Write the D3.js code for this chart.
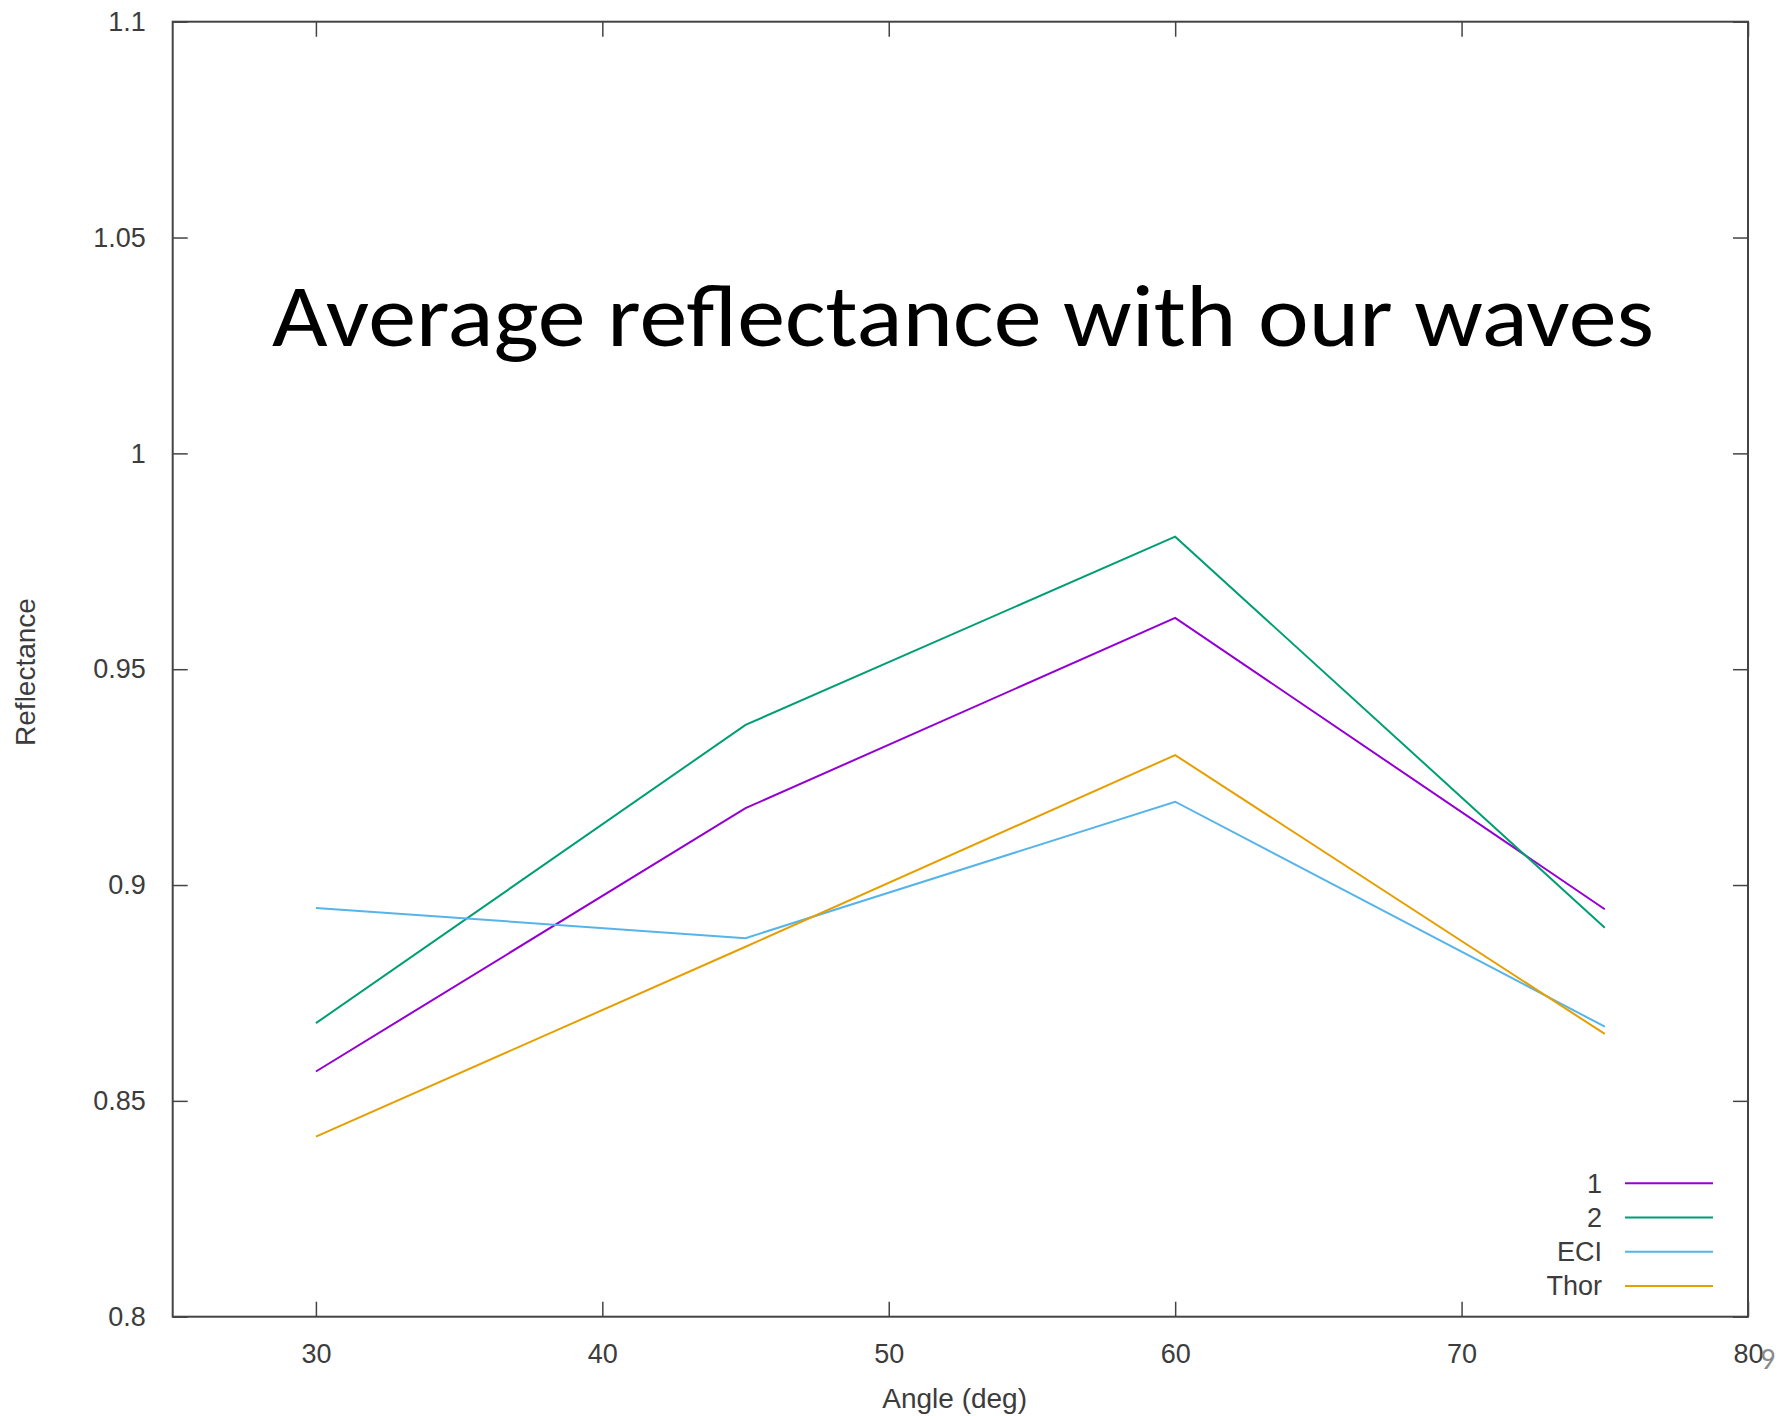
<!DOCTYPE html>
<html>
<head>
<meta charset="utf-8">
<script src="https://cdn.jsdelivr.net/npm/d3@7"></script>
<style>
  body { margin: 0; background: #fff; }
</style>
</head>
<body>
<div id="chart"></div>
<script>
// data
var angles = [30, 45, 60, 75];
var seriesNames = ["1", "2", "ECI", "Thor"];
var series1 = [0.8568, 0.9178, 0.9619, 0.8944];
var series2 = [0.8680, 0.9371, 0.9807, 0.8901];
var seriesECI = [0.8947, 0.8877, 0.9193, 0.8672];
var seriesThor = [0.8417, 0.8857, 0.9301, 0.8655];
var xTicks = [30, 40, 50, 60, 70, 80];
var yTicks = [0.8, 0.85, 0.9, 0.95, 1, 1.05, 1.1];
var colors = ["#9400d3", "#009e73", "#56b4e9", "#e69f00"];

var allSeries = [series1, series2, seriesECI, seriesThor];

var W = 1779, H = 1416;
var margin = {top: 21.7, right: 31, bottom: 99.3, left: 172.7},
    width = W - margin.left - margin.right,
    height = H - margin.top - margin.bottom;

var plotFont = "Liberation Sans, Arial, sans-serif";
var slideFont = "Carlito, Calibri, 'Open Sans', sans-serif";

var svg = d3.select("#chart")
  .append("svg")
    .attr("width", W)
    .attr("height", H)
    .style("font-family", plotFont);

var g = svg.append("g")
    .attr("transform", "translate(" + margin.left + "," + margin.top + ")");

var x = d3.scaleLinear().domain([25, 80]).range([0, width]);
var y = d3.scaleLinear().domain([0.8, 1.1]).range([height, 0]);

var axisColor = "#444";
var labelColor = "#3c3c3c";

// inward ticks on all four sides
var tickLen = 15;
g.append("g")
  .attr("transform", "translate(0," + height + ")")
  .call(d3.axisBottom(x).tickValues(xTicks).tickSizeInner(-tickLen).tickSizeOuter(0).tickPadding(tickLen + 12).tickFormat(d3.format("d")))
  .call(function(a) {
    a.select(".domain").remove();
    a.selectAll("line").attr("stroke", axisColor).attr("stroke-width", 1.5);
    a.selectAll("text").style("font-size", "27px").style("font-family", plotFont).attr("fill", labelColor);
  });

g.append("g")
  .call(d3.axisTop(x).tickValues(xTicks).tickSizeInner(-tickLen).tickSizeOuter(0).tickFormat(""))
  .call(function(a) {
    a.select(".domain").remove();
    a.selectAll("line").attr("stroke", axisColor).attr("stroke-width", 1.5);
  });

g.append("g")
  .call(d3.axisLeft(y).tickValues(yTicks).tickSizeInner(-tickLen).tickSizeOuter(0).tickPadding(tickLen + 12).tickFormat(function(d) { return d3.format("")(+d.toFixed(2)); }))
  .call(function(a) {
    a.select(".domain").remove();
    a.selectAll("line").attr("stroke", axisColor).attr("stroke-width", 1.5);
    a.selectAll("text").style("font-size", "27px").style("font-family", plotFont).attr("fill", labelColor);
  });

g.append("g")
  .attr("transform", "translate(" + width + ",0)")
  .call(d3.axisRight(y).tickValues(yTicks).tickSizeInner(-tickLen).tickSizeOuter(0).tickFormat(""))
  .call(function(a) {
    a.select(".domain").remove();
    a.selectAll("line").attr("stroke", axisColor).attr("stroke-width", 1.5);
  });

// frame
g.append("rect")
  .attr("width", width)
  .attr("height", height)
  .attr("fill", "none")
  .attr("stroke", axisColor)
  .attr("stroke-width", 2);

// lines
var line = d3.line()
  .x(function(d, i) { return x(angles[i]); })
  .y(function(d) { return y(d); });

allSeries.forEach(function(s, k) {
  g.append("path")
    .datum(s)
    .attr("fill", "none")
    .attr("stroke", colors[k])
    .attr("stroke-width", 2)
    .attr("d", line);
});

// legend
var legend = g.append("g");
seriesNames.forEach(function(name, k) {
  var ly = 1161.6 + k * 34.2;
  legend.append("text")
    .attr("x", 1602 - margin.left)
    .attr("y", ly)
    .attr("dy", "0.35em")
    .attr("text-anchor", "end")
    .style("font-size", "27px")
    .attr("fill", labelColor)
    .text(name);
  legend.append("line")
    .attr("x1", 1625 - margin.left)
    .attr("x2", 1713 - margin.left)
    .attr("y1", ly)
    .attr("y2", ly)
    .attr("stroke", colors[k])
    .attr("stroke-width", 2);
});

// axis titles
svg.append("text")
  .attr("x", margin.left + x(52.3))
  .attr("y", 1408)
  .attr("text-anchor", "middle")
  .style("font-size", "28px")
  .attr("fill", labelColor)
  .text("Angle (deg)");

svg.append("text")
  .attr("transform", "translate(35,672) rotate(-90)")
  .attr("text-anchor", "middle")
  .style("font-size", "28px")
  .attr("fill", labelColor)
  .text("Reflectance");

// slide title overlay
svg.append("text")
  .attr("x", 272)
  .attr("y", 346)
  .style("font-family", slideFont)
  .style("font-size", "88px")
  .attr("fill", "#000")
  .attr("textLength", 1382)
  .attr("lengthAdjust", "spacingAndGlyphs")
  .text("Average reflectance with our waves");

// page number
svg.append("text")
  .attr("x", 1760)
  .attr("y", 1369)
  .style("font-family", slideFont)
  .style("font-size", "30px")
  .attr("fill", "#8a8a8a")
  .text("9");
</script>
</body>
</html>
